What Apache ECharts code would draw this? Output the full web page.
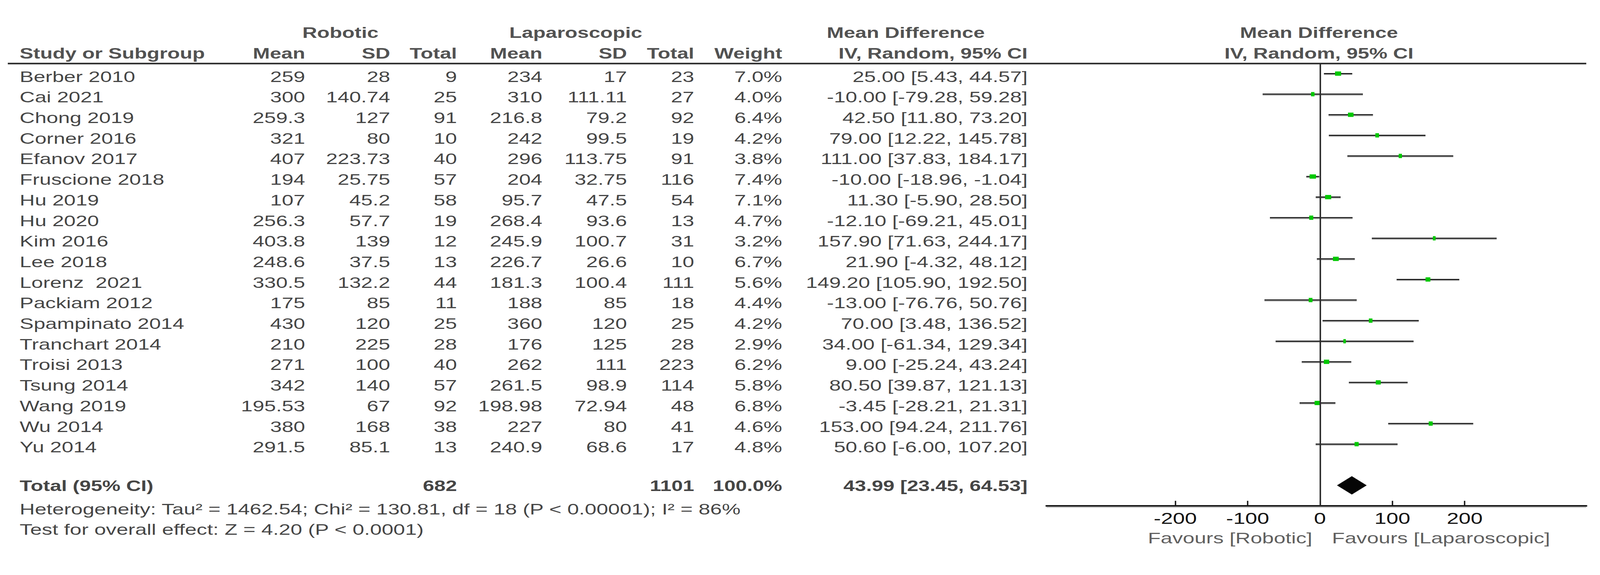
<!DOCTYPE html>
<html><head><meta charset="utf-8">
<script src="https://cdn.jsdelivr.net/npm/echarts@6/dist/echarts.min.js"></script>
<style>
html,body{margin:0;padding:0;background:#fff;overflow:hidden;width:100%;height:100%;}
#wrap{position:absolute;left:0;top:0;width:100vw;height:100vh;overflow:hidden;background:#fff;}
#chart{position:absolute;left:0;top:0;width:2972px;height:1472px;transform-origin:0 0;}
</style></head><body><div id="wrap"><div id="chart"></div></div>
<script>
// ---------------- data ----------------
const studies = ["Berber 2010","Cai 2021","Chong 2019","Corner 2016","Efanov 2017","Fruscione 2018","Hu 2019","Hu 2020","Kim 2016","Lee 2018","Lorenz  2021","Packiam 2012","Spampinato 2014","Tranchart 2014","Troisi 2013","Tsung 2014","Wang 2019","Wu 2014","Yu 2014"];
const robMean = [259,300,259.3,321,407,194,107,256.3,403.8,248.6,330.5,175,430,210,271,342,195.53,380,291.5];
const robSD   = [28,140.74,127,80,223.73,25.75,45.2,57.7,139,37.5,132.2,85,120,225,100,140,67,168,85.1];
const robN    = [9,25,91,10,40,57,58,19,12,13,44,11,25,28,40,57,92,38,13];
const lapMean = [234,310,216.8,242,296,204,95.7,268.4,245.9,226.7,181.3,188,360,176,262,261.5,198.98,227,240.9];
const lapSD   = [17,111.11,79.2,99.5,113.75,32.75,47.5,93.6,100.7,26.6,100.4,85,120,125,111,98.9,72.94,80,68.6];
const lapN    = [23,27,92,19,91,116,54,13,31,10,111,18,25,28,223,114,48,41,17];
const weight  = [7.0,4.0,6.4,4.2,3.8,7.4,7.1,4.7,3.2,6.7,5.6,4.4,4.2,2.9,6.2,5.8,6.8,4.6,4.8];
const md      = [25.00,-10.00,42.50,79.00,111.00,-10.00,11.30,-12.10,157.90,21.90,149.20,-13.00,70.00,34.00,9.00,80.50,-3.45,153.00,50.60];
const ciLow   = [5.43,-79.28,11.80,12.22,37.83,-18.96,-5.90,-69.21,71.63,-4.32,105.90,-76.76,3.48,-61.34,-25.24,39.87,-28.21,94.24,-6.00];
const ciHigh  = [44.57,59.28,73.20,145.78,184.17,-1.04,28.50,45.01,244.17,48.12,192.50,50.76,136.52,129.34,43.24,121.13,21.31,211.76,107.20];
const totalRobN = 682, totalLapN = 1101, totalWeight = 100.0;
const totalMD = 43.99, totalLow = 23.45, totalHigh = 64.53;
const axisTicks = [-200,-100,0,100,200];
const heterogeneityText = "Heterogeneity: Tau\u00b2 = 1462.54; Chi\u00b2 = 130.81, df = 18 (P < 0.00001); I\u00b2 = 86%";
const overallText = "Test for overall effect: Z = 4.20 (P < 0.0001)";
const favoursLeft = "Favours [Robotic]", favoursRight = "Favours [Laparoscopic]";

// ---------------- layout ----------------
const W = 2972, SX = 4310 / W;
const px = v => v / SX;            // reference x -> internal x
const ROW0 = 188.4, ROWH = 52.7;   // first study row centre, row pitch
const yr = py => (py - ROW0) / ROWH;
const TOTAL_ROW = 20;
const FONT = "'Liberation Sans', Arial, Helvetica, sans-serif";

// fit the 4310x1472 design into whatever viewport the page gets
(function fit(){
  const vw = window.innerWidth || document.documentElement.clientWidth || 4310;
  const vh = window.innerHeight || document.documentElement.clientHeight || 1472;
  const fx = vw / 4310, fy = vh / 1472;
  document.getElementById('chart').style.transform = 'scale(' + (SX * fx) + ',' + fy + ')';
})();

const col = {name:53, robMean:822, robSD:1051, robN:1231, lapMean:1461, lapSD:1689, lapN:1870, weight:2107, ci:2768};
const fmtCI = (m,l,h) => m.toFixed(2) + " [" + l.toFixed(2) + ", " + h.toFixed(2) + "]";

function textSeries(items, o) {
  return {
    type:'scatter', xAxisIndex:1, yAxisIndex:1, symbolSize:1, silent:true, clip:false,
    itemStyle:{color:'transparent'}, z:5,
    data: items.map(t => ({name:t[2], value:[t[0], t[1]]})),
    label:{show:true, position:'inside', formatter:p => p.name, align:o.align, verticalAlign:'middle',
      fontSize:o.size || 39, fontWeight:o.bold ? 'bold' : 'normal', color:o.color || '#111',
      fontFamily:FONT, offset:[0, o.dy || 0]}
  };
}

const rowsIdx = studies.map((s,i)=>i);
const series = [];
// headers
series.push(textSeries([
  [px(917), yr(84), "Robotic"], [px(1551), yr(84), "Laparoscopic"],
  [px(2440), yr(84), "Mean Difference"], [px(3553), yr(84), "Mean Difference"],
  [px(3553), yr(137), "IV, Random, 95% CI"]
], {align:'center', bold:true, size:38, color:'#222'}));
series.push(textSeries([[px(col.name), yr(137), "Study or Subgroup"]], {align:'left', bold:true, size:38, color:'#222'}));
series.push(textSeries([
  [px(col.robMean), yr(137), "Mean"], [px(col.robSD), yr(137), "SD"], [px(col.robN), yr(137), "Total"],
  [px(col.lapMean), yr(137), "Mean"], [px(col.lapSD), yr(137), "SD"], [px(col.lapN), yr(137), "Total"],
  [px(col.weight), yr(137), "Weight"], [px(col.ci), yr(137), "IV, Random, 95% CI"]
], {align:'right', bold:true, size:38, color:'#222'}));
// study rows
series.push(textSeries(rowsIdx.map(i => [px(col.name), i, studies[i]]), {align:'left', dy:7.5}));
const rightCols = [];
rowsIdx.forEach(i => {
  rightCols.push([px(col.robMean), i, String(robMean[i])]);
  rightCols.push([px(col.robSD), i, String(robSD[i])]);
  rightCols.push([px(col.robN), i, String(robN[i])]);
  rightCols.push([px(col.lapMean), i, String(lapMean[i])]);
  rightCols.push([px(col.lapSD), i, String(lapSD[i])]);
  rightCols.push([px(col.lapN), i, String(lapN[i])]);
  rightCols.push([px(col.weight), i, weight[i].toFixed(1) + "%"]);
  rightCols.push([px(col.ci), i, fmtCI(md[i], ciLow[i], ciHigh[i])]);
});
series.push(textSeries(rightCols, {align:'right', dy:7.5}));
// total row
series.push(textSeries([[px(col.name), TOTAL_ROW, "Total (95% CI)"]], {align:'left', bold:true, size:38, dy:2}));
series.push(textSeries([
  [px(col.robN), TOTAL_ROW, String(totalRobN)], [px(col.lapN), TOTAL_ROW, String(totalLapN)],
  [px(col.weight), TOTAL_ROW, totalWeight.toFixed(1) + "%"], [px(col.ci), TOTAL_ROW, fmtCI(totalMD, totalLow, totalHigh)]
], {align:'right', bold:true, size:38, dy:2}));
// footnotes
series.push(textSeries([[px(col.name), yr(1303), heterogeneityText], [px(col.name), yr(1355), overallText]], {align:'left'}));
// favours
series.push(textSeries([[px(3535), yr(1377), favoursLeft]], {align:'right', color:'#333'}));
series.push(textSeries([[px(3588), yr(1377), favoursRight]], {align:'left', color:'#333'}));

// forest plot: CI lines + weight squares
series.push({
  type:'custom', xAxisIndex:0, yAxisIndex:0, clip:false, silent:true, z:3,
  data: rowsIdx.map(i => [ciLow[i], ciHigh[i], md[i], weight[i], i]),
  encode:{x:[0,1,2], y:4},
  renderItem:(params, api) => {
    const y = api.value(4);
    const a = api.coord([api.value(0), y]);
    const b = api.coord([api.value(1), y]);
    const m = api.coord([api.value(2), y]);
    const w = api.value(3) * 1.6;
    return {type:'group', children:[
      {type:'line', shape:{x1:a[0], y1:a[1]+2.6, x2:b[0], y2:b[1]+2.6}, style:{stroke:'#bdbdbd', lineWidth:2.6}},
      {type:'line', shape:{x1:a[0], y1:a[1], x2:b[0], y2:b[1]}, style:{stroke:'#1c1c1c', lineWidth:3}},
      {type:'rect', shape:{x:m[0]-w/2, y:m[1]-5.5, width:w, height:11}, style:{fill:'#00c800'}}
    ]};
  },
  markLine:{symbol:'none', silent:true, animation:false, label:{show:false},
    lineStyle:{color:'#2e2e2e', width:2.8, type:'solid'}, data:[{xAxis:0}]}
});
// pooled diamond
series.push({
  type:'custom', xAxisIndex:0, yAxisIndex:0, clip:false, silent:true, z:4,
  data:[[totalLow, totalHigh, totalMD, TOTAL_ROW]],
  encode:{x:[0,1,2], y:3},
  renderItem:(params, api) => {
    const y = api.value(3);
    const l = api.coord([api.value(0), y]);
    const r = api.coord([api.value(1), y]);
    const m = api.coord([api.value(2), y]);
    const h = 23.5;
    return {type:'polygon', shape:{points:[[l[0], l[1]], [m[0], m[1]-h], [r[0], r[1]], [m[0], m[1]+h]]}, style:{fill:'#050505'}};
  }
});

const chart = echarts.init(document.getElementById('chart'), null, {renderer:'svg', width:W, height:1472});
chart.setOption({
  animation:false,
  backgroundColor:'#fff',
  grid:[
    {left:px(2819), width:px(4273-2819), top:ROW0-0.5*ROWH, height:21.5*ROWH, outerBoundsMode:'none', containLabel:false},
    {left:0, width:W, top:ROW0-3*ROWH, height:26*ROWH, outerBoundsMode:'none', containLabel:false}
  ],
  xAxis:[
    {type:'value', gridIndex:0, min:-378, max:368, position:'bottom',
      axisLine:{show:true, onZero:false, lineStyle:{color:'#1a1a1a', width:4}},
      axisTick:{show:true, inside:true, length:13, customValues:axisTicks, lineStyle:{color:'#1a1a1a', width:2.6}},
      axisLabel:{show:true, customValues:axisTicks, margin:12, fontSize:40, color:'#111', fontFamily:FONT},
      splitLine:{show:false}},
    {type:'value', gridIndex:1, min:0, max:W, show:false}
  ],
  yAxis:[
    {type:'value', gridIndex:0, min:-0.5, max:21, inverse:true, show:false},
    {type:'value', gridIndex:1, min:-3, max:23, inverse:true, show:false}
  ],
  graphic:[
    {type:'line', silent:true, z:1, shape:{x1:px(21), y1:165, x2:px(4273), y2:165}, style:{stroke:'#bcbcbc', lineWidth:2}},
    {type:'line', silent:true, z:2, shape:{x1:px(21), y1:162.4, x2:px(4273), y2:162.4}, style:{stroke:'#1e1e1e', lineWidth:3.2}},
    {type:'line', silent:true, z:1, shape:{x1:px(2819), y1:1298.6, x2:px(4273), y2:1298.6}, style:{stroke:'#b8b8b8', lineWidth:2.4}}
  ],
  series:series
});
</script></body></html>
